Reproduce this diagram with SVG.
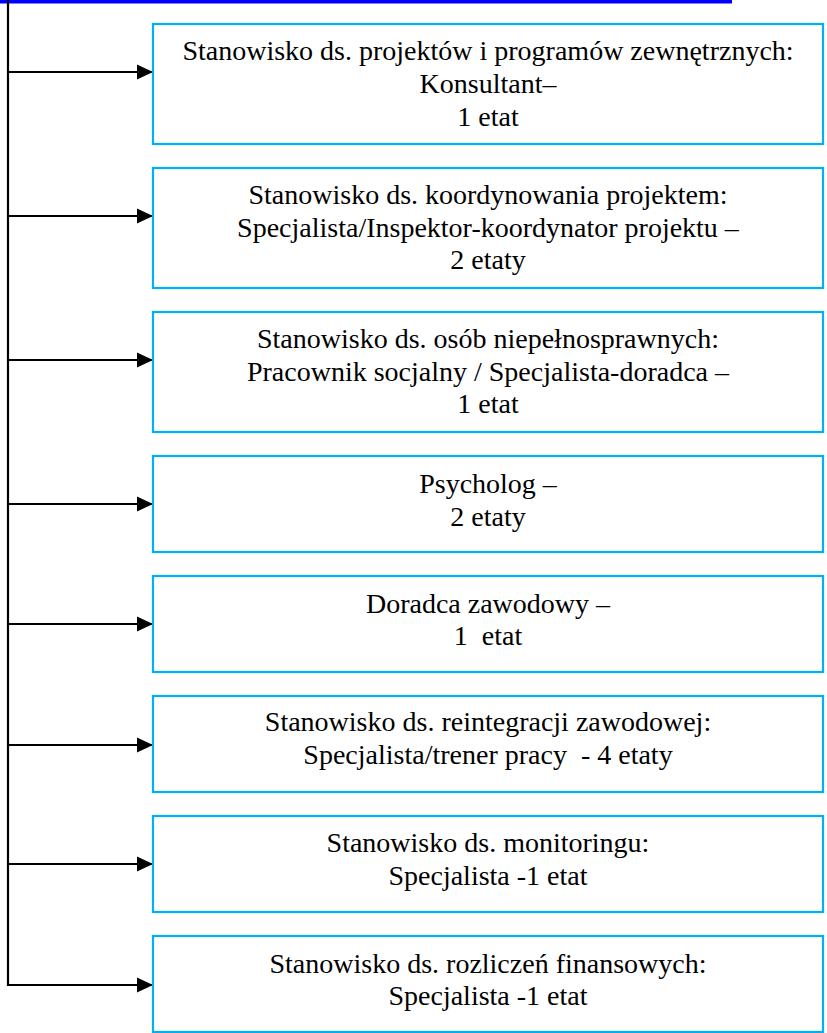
<svg xmlns="http://www.w3.org/2000/svg" width="827" height="1033" viewBox="0 0 827 1033">
<style>
.box{fill:#fff;stroke:#00B0F0;stroke-width:2.2}
.t{font-family:"Liberation Serif","Times New Roman",serif;font-size:28px;fill:#000;text-anchor:middle;white-space:pre}
.c{stroke:#000;stroke-width:2.2;fill:none}
</style>
<defs>
<marker id="ah" markerWidth="16" markerHeight="16" refX="16" refY="8" orient="auto" markerUnits="userSpaceOnUse">
<path d="M0,0.5 L16,8 L0,15.5 Z" fill="#000"/>
</marker>
</defs>
<rect x="0" y="0" width="732" height="3.5" fill="#0000FF"/>
<g id="connectors">
<line class="c" x1="8" y1="0" x2="8" y2="986"/>
<line class="c" x1="8" y1="72" x2="153" y2="72" marker-end="url(#ah)"/>
<line class="c" x1="8" y1="216" x2="153" y2="216" marker-end="url(#ah)"/>
<line class="c" x1="8" y1="360" x2="153" y2="360" marker-end="url(#ah)"/>
<line class="c" x1="8" y1="504" x2="153" y2="504" marker-end="url(#ah)"/>
<line class="c" x1="8" y1="624" x2="153" y2="624" marker-end="url(#ah)"/>
<line class="c" x1="8" y1="745" x2="153" y2="745" marker-end="url(#ah)"/>
<line class="c" x1="8" y1="864" x2="153" y2="864" marker-end="url(#ah)"/>
<line class="c" x1="8" y1="985" x2="153" y2="985" marker-end="url(#ah)"/>
</g>
<g id="n1"><rect class="box" x="153" y="24" width="670" height="120"/>
<text class="t" x="488" y="60">Stanowisko ds. projektów i programów zewnętrznych:</text>
<text class="t" x="488" y="93">Konsultant–</text>
<text class="t" x="488" y="126">1 etat</text></g>
<g id="n2"><rect class="box" x="153" y="168" width="670" height="120"/>
<text class="t" x="488" y="204">Stanowisko ds. koordynowania projektem:</text>
<text class="t" x="488" y="237">Specjalista/Inspektor-koordynator projektu –</text>
<text class="t" x="488" y="269">2 etaty</text></g>
<g id="n3"><rect class="box" x="153" y="312" width="670" height="120"/>
<text class="t" x="488" y="348">Stanowisko ds. osób niepełnosprawnych:</text>
<text class="t" x="488" y="381">Pracownik socjalny / Specjalista-doradca –</text>
<text class="t" x="488" y="413">1 etat</text></g>
<g id="n4"><rect class="box" x="153" y="456" width="670" height="96"/>
<text class="t" x="488" y="493">Psycholog –</text>
<text class="t" x="488" y="526">2 etaty</text></g>
<g id="n5"><rect class="box" x="153" y="576" width="670" height="96"/>
<text class="t" x="488" y="613">Doradca zawodowy –</text>
<text class="t" x="488" y="645" xml:space="preserve">1  etat</text></g>
<g id="n6"><rect class="box" x="153" y="696" width="670" height="96"/>
<text class="t" x="488" y="731">Stanowisko ds. reintegracji zawodowej:</text>
<text class="t" x="488" y="764" xml:space="preserve">Specjalista/trener pracy  - 4 etaty</text></g>
<g id="n7"><rect class="box" x="153" y="816" width="670" height="96"/>
<text class="t" x="488" y="852">Stanowisko ds. monitoringu:</text>
<text class="t" x="488" y="885">Specjalista -1 etat</text></g>
<g id="n8"><rect class="box" x="153" y="936" width="670" height="96"/>
<text class="t" x="488" y="973">Stanowisko ds. rozliczeń finansowych:</text>
<text class="t" x="488" y="1005">Specjalista -1 etat</text></g>
</svg>
